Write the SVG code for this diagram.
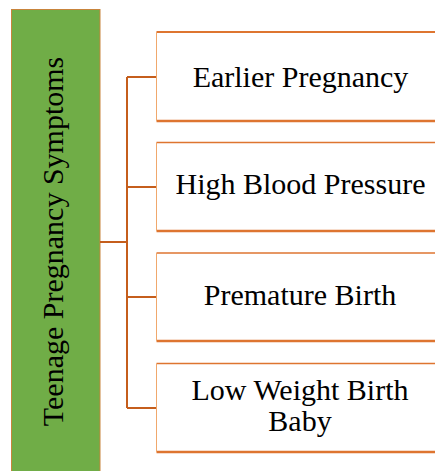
<svg xmlns="http://www.w3.org/2000/svg" width="435" height="471" viewBox="0 0 435 471">
  <style>
    .label { font-family: "Liberation Serif", "Times New Roman", serif; font-size: 30px; fill: #000; text-anchor: middle; }
    .edge { stroke: #C55E1C; stroke-width: 2; fill: none; }
    .box { fill: #FFFFFF; stroke: none; }
    .rule { stroke: #DE7530; fill: none; }
    .side { stroke: #F0A86C; stroke-width: 1; fill: none; }
  </style>
  <rect width="435" height="471" fill="#FFFFFF"/>

  <!-- root node -->
  <g id="root">
    <rect x="11.5" y="9.5" width="88.5" height="470" fill="#70AD47" stroke="#C8843C" stroke-width="1"/>
    <text class="label" transform="translate(63 241.5) rotate(-90)" x="0" y="0">Teenage Pregnancy Symptoms</text>
  </g>

  <!-- connectors -->
  <g id="connectors">
    <path class="edge" d="M100 242 H127 M127 77 V408 M127 77 H156 M127 187 H156 M127 297 H156 M127 408 H156"/>
  </g>

  <!-- child nodes -->
  <g id="node-earlier">
    <rect class="box" x="156.5" y="32" width="290" height="89"/>
    <line class="rule" x1="156.5" y1="32" x2="440" y2="32" stroke-width="2"/>
    <line class="rule" x1="156.5" y1="121" x2="440" y2="121" stroke-width="2.5"/>
    <line class="side" x1="156.5" y1="32" x2="156.5" y2="121"/>
    <text class="label" x="300.5" y="86.5">Earlier Pregnancy</text>
  </g>

  <g id="node-pressure">
    <rect class="box" x="156.5" y="142.5" width="290" height="88.5"/>
    <line class="rule" x1="156.5" y1="142.5" x2="440" y2="142.5" stroke-width="1.5"/>
    <line class="rule" x1="156.5" y1="231" x2="440" y2="231" stroke-width="2.5"/>
    <line class="side" x1="156.5" y1="142.5" x2="156.5" y2="231"/>
    <text class="label" x="300.5" y="194">High Blood Pressure</text>
  </g>

  <g id="node-premature">
    <rect class="box" x="156.5" y="253" width="290" height="88"/>
    <line class="rule" x1="156.5" y1="253" x2="440" y2="253" stroke-width="1.5"/>
    <line class="rule" x1="156.5" y1="341" x2="440" y2="341" stroke-width="2.5"/>
    <line class="side" x1="156.5" y1="253" x2="156.5" y2="341"/>
    <text class="label" x="300" y="305">Premature Birth</text>
  </g>

  <g id="node-lowweight">
    <rect class="box" x="156.5" y="363.5" width="290" height="88.5"/>
    <line class="rule" x1="156.5" y1="363.5" x2="440" y2="363.5" stroke-width="1.5"/>
    <line class="rule" x1="156.5" y1="452" x2="440" y2="452" stroke-width="2.5"/>
    <line class="side" x1="156.5" y1="363.5" x2="156.5" y2="452"/>
    <text class="label" x="300" y="400">Low Weight Birth</text>
    <text class="label" x="300" y="431">Baby</text>
  </g>
</svg>
